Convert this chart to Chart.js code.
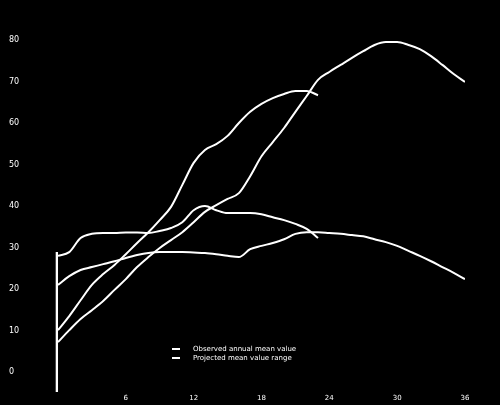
<!DOCTYPE html>
<html>
<head>
<meta charset="utf-8">
<script src="https://cdn.jsdelivr.net/npm/chart.js@4"></script>
<style>
  html, body { margin: 0; padding: 0; background: #000; }
  canvas { display: block; }
</style>
</head>
<body>
<canvas id="chart" width="500" height="405"></canvas>
<script>
// x positions (steps) shared by every series
const steps = [0, 1, 2, 3, 4, 5, 6, 7, 8, 9, 10, 11, 12, 13, 14, 15, 16, 17, 18,
  19, 20, 21, 22, 23, 24, 25, 26, 27, 28, 29, 30, 31, 32, 33, 34, 35, 36];

const lowerSeries = [21.0, 23.1, 24.6, 25.3, 26.0, 26.7, 27.5, 28.2, 28.7, 28.9,
  28.9, 28.9, 28.8, 28.7, 28.4, 28.0, 27.7, 29.6, 30.4, 31.1, 32.0, 33.3, 33.7,
  33.7, 33.5, 33.3, 33.0, 32.7, 32.0, 31.3, 30.4, 29.2, 28.0, 26.7, 25.3, 23.9, 22.4];

const middleSeries = [28.0, 28.9, 32.3, 33.3, 33.5, 33.5, 33.6, 33.6, 33.5, 34.0,
  34.7, 36.1, 39.0, 40.0, 39.0, 38.3, 38.3, 38.3, 38.0, 37.3, 36.6, 35.7, 34.5, 32.3];

const peakSeries = [7.2, 10.1, 12.8, 14.9, 17.1, 19.8, 22.4, 25.3, 27.7, 29.9,
  31.8, 33.7, 36.1, 38.6, 40.2, 41.7, 43.1, 47.2, 52.0, 55.4, 58.8, 62.7, 66.5,
  70.4, 72.3, 74.0, 75.7, 77.3, 78.8, 79.5, 79.5, 78.8, 77.8, 76.1, 74.0, 71.8, 69.9];

const upperSeries = [10.1, 13.5, 17.3, 21.0, 23.6, 25.8, 28.4, 31.1, 33.7, 36.6,
  39.8, 45.1, 50.4, 53.5, 54.9, 56.9, 60.0, 62.7, 64.6, 66.0, 67.0, 67.7, 67.7, 66.7];

// the vertical base marker at the start
const baseX = [-0.15, -0.15];
const baseY = [-4.8, 28.9];

const legendNames = ['Observed annual mean value', 'Projected mean value range'];

function points(xs, ys) {
  return ys.map((y, i) => ({ x: xs[i], y: y }));
}

const blackBackground = {
  id: 'blackBackground',
  beforeDraw(chart) {
    const ctx = chart.ctx;
    ctx.save();
    ctx.fillStyle = '#000';
    ctx.fillRect(0, 0, chart.width, chart.height);
    ctx.restore();
  }
};

// small legend drawn inside the plot, two rows
const innerLegend = {
  id: 'innerLegend',
  afterDraw(chart) {
    const ctx = chart.ctx;
    ctx.save();
    ctx.font = '7px "DejaVu Sans"';
    ctx.fillStyle = '#fff';
    ctx.strokeStyle = '#fff';
    ctx.lineWidth = 2;
    ctx.textBaseline = 'middle';
    legendNames.forEach((name, i) => {
      const y = 349 + i * 9;
      ctx.beginPath();
      ctx.moveTo(172, y);
      ctx.lineTo(180, y);
      ctx.stroke();
      ctx.fillText(name, 193, y);
    });
    ctx.restore();
  }
};

const lineStyle = {
  borderColor: '#fff',
  backgroundColor: '#fff',
  borderWidth: 2,
  pointRadius: 0,
  fill: false,
  tension: 0.4,
  cubicInterpolationMode: 'monotone'
};

new Chart(document.getElementById('chart'), {
  type: 'line',
  data: {
    datasets: [
      { label: 'lower', data: points(steps, lowerSeries), ...lineStyle },
      { label: 'middle', data: points(steps, middleSeries), ...lineStyle },
      { label: 'peak', data: points(steps, peakSeries), ...lineStyle },
      { label: 'upper', data: points(steps, upperSeries), ...lineStyle },
      { label: 'base', data: points(baseX, baseY), ...lineStyle, borderWidth: 3.5, tension: 0 }
    ]
  },
  options: {
    responsive: false,
    animation: false,
    layout: { padding: { top: 40, right: 35, bottom: 0, left: 9 } },
    plugins: {
      legend: { display: false },
      tooltip: { enabled: false }
    },
    scales: {
      x: {
        type: 'linear',
        min: -0.2,
        max: 36,
        grid: { display: false, drawTicks: false },
        border: { display: false },
        ticks: {
          stepSize: 6,
          color: '#fff',
          font: { size: 7, family: 'DejaVu Sans' },
          padding: 2,
          maxRotation: 0,
          callback: (v) => (v >= 0 ? v : '')
        },
        afterFit(scale) { scale.height = 13; }
      },
      y: {
        min: -4.8,
        max: 80,
        grid: { display: false, drawTicks: false },
        border: { display: false },
        ticks: {
          stepSize: 10,
          color: '#fff',
          font: { size: 8, family: 'DejaVu Sans' },
          padding: 0,
          crossAlign: 'far',
          callback: (v) => (v >= 0 ? v : '')
        },
        afterFit(scale) { scale.width = 46.7; }
      }
    }
  },
  plugins: [blackBackground, innerLegend]
});
</script>
</body>
</html>
